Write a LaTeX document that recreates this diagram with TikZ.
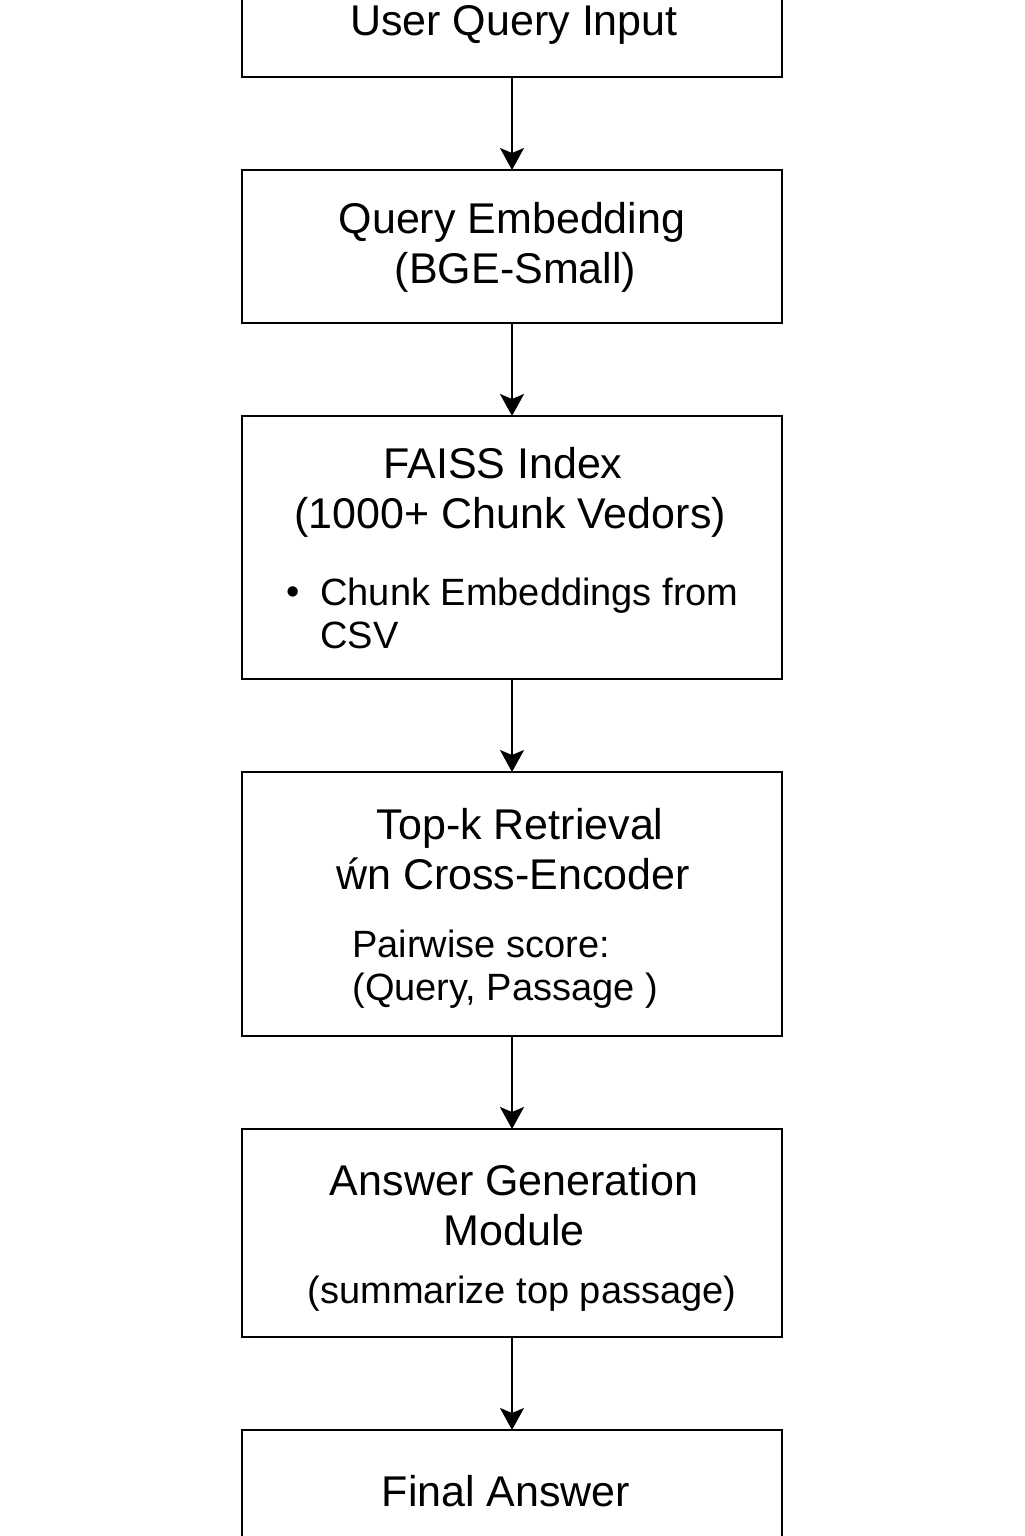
\documentclass[tikz,border=0pt]{standalone}
\usepackage{fontspec}
\setmainfont{Liberation Sans}
\usetikzlibrary{arrows.meta,positioning}
\tikzset{
    %Define standard arrow tip
    >={Stealth[length=11pt,width=12pt,inset=2.5pt]},
    %Define style for boxes
    stage/.style={
        rectangle,
        draw=black, line width=1.2pt,
        minimum width=270pt,
        inner sep=0pt,
        outer sep=0pt
    },
    %Define styles for texts
    title/.style={
        font=\fontsize{21.5}{25}\selectfont,
        align=center,
        inner sep=0pt
    },
    detail/.style={
        font=\fontsize{19}{21.5}\selectfont,
        align=left,
        anchor=west,
        inner sep=0pt
    },
    % Define arrow style
    pil/.style={
        ->,
        line width=1pt}
}

\begin{document}
\begin{tikzpicture}[x=0.5pt,y=-0.5pt,node distance=46.5pt]
    \clip (0,0) rectangle (1024,1536);
    %boxes
    \node[stage, minimum height=88.5pt] (input) at (512,-11.5) {};
    \node[stage, minimum height=76.5pt, below=of input] (embed) {};
    \node[stage, minimum height=131.5pt, below=of embed] (faiss) {};
    \node[stage, minimum height=132pt, below=of faiss] (rerank) {};
    \node[stage, minimum height=104pt, below=of rerank] (answer) {};
    \node[stage, minimum height=105pt, below=of answer] (final) {};
    %texts
    \node[title] (inputtxt) at (514,25) {User Query Input};
    \node[title] (embedtxt) at (512,247) {Query Embedding\\ \,(BGE-Small)};
    \node[title] (faisstxt) at (503,492) {FAISS Index\\ \,\,(1000+ Chunk Vedors)};
    \node[detail] (bullet) at (286,596) {•};
    \node[detail] (faissdet) at (320,613) {Chunk Embeddings from\\CSV};
    \node[title] (reranktxt) at (513,849) {\,\,Top-k Retrieval\\ẃn Cross-Encoder};
    \node[detail] (rerankdet) at (352,969) {Pairwise score:\\(Query, Passage )};
    \node[title] (answertxt) at (514,1205) {Answer Generation\\Module};
    \node[detail, anchor=center] (answerdet) at (522,1294) {(summarize top passage)};
    \node[title] (finaltxt) at (506,1491) {Final Answer};
    %arrows
    \draw[pil] (input) -- (embed);
    \draw[pil] (embed) -- (faiss);
    \draw[pil] (faiss) -- (rerank);
    \draw[pil] (rerank) -- (answer);
    \draw[pil] (answer) -- (final);
\end{tikzpicture}
\end{document}
